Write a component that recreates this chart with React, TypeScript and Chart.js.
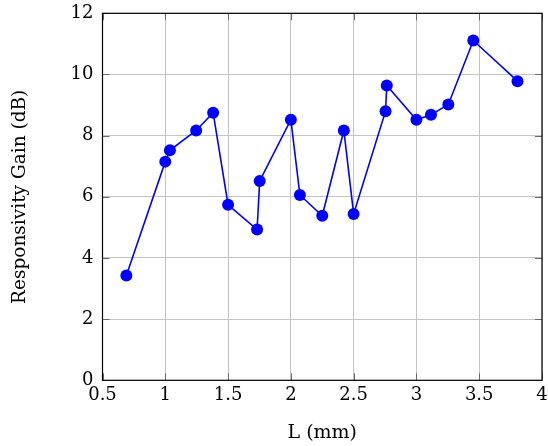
import React, { useEffect, useRef } from "react";
import { Chart, registerables } from "chart.js";

Chart.register(...registerables);

const xValues = [0.69, 1.0, 1.037, 1.246, 1.381, 1.5, 1.731, 1.752, 2.0, 2.072, 2.25, 2.422, 2.5, 2.754, 2.764, 3.0, 3.116, 3.254, 3.453, 3.805];
const yValues = [3.43, 7.15, 7.52, 8.17, 8.75, 5.74, 4.93, 6.52, 8.52, 6.06, 5.38, 8.17, 5.44, 8.8, 9.64, 8.52, 8.68, 9.02, 11.11, 9.78];
const xTicks = [0.5, 1, 1.5, 2, 2.5, 3, 3.5, 4];
const yTicks = [0, 2, 4, 6, 8, 10, 12];
const xTitle = "L (mm)";
const yTitle = "Responsivity Gain (dB)";

const FONT = "'DejaVu Serif', 'Liberation Serif', serif";

const frame = {
  id: "frame",
  beforeDatasetsDraw(chart: any) {
    const { ctx, chartArea } = chart;
    const { left, right, top, bottom } = chartArea;
    const xs = chart.scales.x;
    const ys = chart.scales.y;
    const tl = 7;
    ctx.save();
    ctx.strokeStyle = "#6a6a6a";
    ctx.lineWidth = 1;
    ctx.beginPath();
    xTicks.forEach((v) => {
      const px = Math.round(xs.getPixelForValue(v)) + 0.5;
      ctx.moveTo(px, top);
      ctx.lineTo(px, top + tl);
      ctx.moveTo(px, bottom);
      ctx.lineTo(px, bottom - tl);
    });
    yTicks.forEach((v) => {
      const py = Math.round(ys.getPixelForValue(v)) + 0.5;
      ctx.moveTo(left, py);
      ctx.lineTo(left + tl, py);
      ctx.moveTo(right, py);
      ctx.lineTo(right - tl, py);
    });
    ctx.stroke();
    ctx.strokeStyle = "#000";
    ctx.lineWidth = 1.2;
    ctx.strokeRect(left, top, right - left, bottom - top);
    ctx.restore();
  },
};

export default function App() {
  const ref = useRef<HTMLCanvasElement>(null);
  useEffect(() => {
    document.body.style.margin = "0";
    const chart = new Chart(ref.current as HTMLCanvasElement, {
      type: "line",
      data: {
        datasets: [
          {
            data: xValues.map((x, i) => ({ x, y: yValues[i] })),
            borderColor: "#0000ff",
            backgroundColor: "#0000ff",
            borderWidth: 1.6,
            pointRadius: 6,
            pointHoverRadius: 6,
            pointBorderWidth: 0,
            pointBackgroundColor: "#0000ff",
            tension: 0,
            fill: false,
          },
        ],
      },
      options: {
        animation: false,
        responsive: false,
        layout: { padding: { top: 13.3, right: 5, left: 0, bottom: 0 } },
        plugins: { legend: { display: false }, tooltip: { enabled: false } },
        scales: {
          x: {
            type: "linear",
            min: 0.5,
            max: 4,
            afterBuildTicks: (s: any) => {
              s.ticks = xTicks.map((v) => ({ value: v }));
            },
            afterFit: (s: any) => {
              s.height = 65.7;
              s.paddingLeft = 0;
              s.paddingRight = 0;
            },
            grid: { color: "#c4c4c4", drawTicks: false },
            border: { display: false },
            ticks: {
              color: "#000",
              font: { family: FONT, size: 18 },
              padding: 4,
              maxRotation: 0,
              callback: (v: any) => String(v),
            },
            title: {
              display: true,
              text: xTitle,
              color: "#000",
              font: { family: FONT, size: 19 },
              padding: { top: 0, bottom: 2 },
            },
          },
          y: {
            type: "linear",
            min: 0,
            max: 12,
            afterBuildTicks: (s: any) => {
              s.ticks = yTicks.map((v) => ({ value: v }));
            },
            afterFit: (s: any) => {
              s.width = 102.5;
              s.paddingTop = 0;
              s.paddingBottom = 0;
            },
            grid: { color: "#c4c4c4", drawTicks: false },
            border: { display: false },
            ticks: {
              color: "#000",
              font: { family: FONT, size: 18 },
              padding: 9,
              callback: (v: any) => String(v),
            },
            title: {
              display: true,
              text: yTitle,
              color: "#000",
              font: { family: FONT, size: 18.5 },
              padding: { top: 9, bottom: 0 },
            },
          },
        },
      },
      plugins: [frame],
    });
    return () => chart.destroy();
  }, []);
  return (
    <div style={{ position: "absolute", left: 0, top: 0, width: 548, height: 446 }}>
      <canvas ref={ref} width={548} height={446} />
    </div>
  );
}
